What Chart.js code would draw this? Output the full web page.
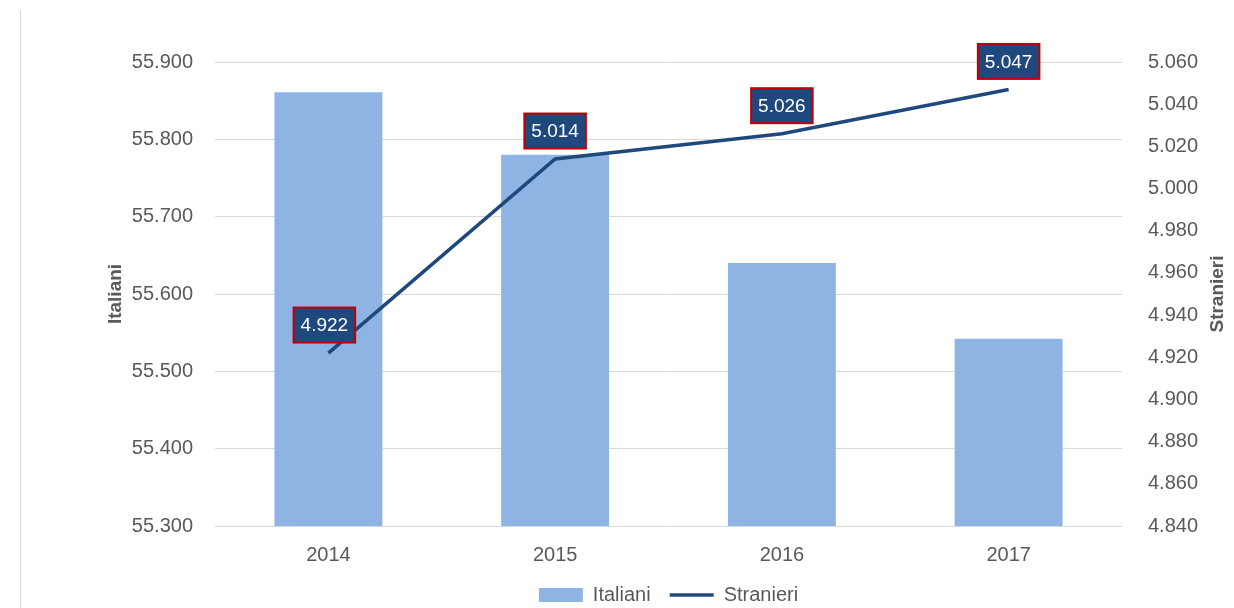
<!DOCTYPE html>
<html>
<head>
<meta charset="utf-8">
<script src="https://cdn.jsdelivr.net/npm/chart.js@4"></script>
<style>
  html, body { margin: 0; padding: 0; background: #fff; }
  #wrap { position: relative; width: 1234px; height: 608px; overflow: hidden; }
  #frame { position: absolute; left: 20px; top: 10px; width: 1px; height: 598px; background: #d9d9d9; }
  canvas { position: absolute; left: 0; top: 0; }
</style>
</head>
<body>
<div id="wrap">
  <div id="frame"></div>
  <canvas id="chartItaliani" width="1234" height="608"></canvas>
</div>
<script>
let anni = ["2014", "2015", "2016", "2017"];
let italiani = [55861, 55780, 55640, 55542];
let stranieri = [4922, 5014, 5026, 5047];

const fontFamily = "'Liberation Sans', Arial, sans-serif";
const grigio = "#595959";

function formatNum(v) {
  return (v / 1000).toFixed(3);
}

// etichette dei valori sulla linea (box blu con bordo rosso)
const etichettePlugin = {
  id: "etichette",
  afterDatasetsDraw(chart) {
    const ctx = chart.ctx;
    const meta = chart.getDatasetMeta(1);
    ctx.save();
    ctx.font = "19px " + fontFamily;
    ctx.textAlign = "center";
    ctx.textBaseline = "middle";
    meta.data.forEach((pt, i) => {
      const text = formatNum(stranieri[i]);
      const w = ctx.measureText(text).width + 14;
      const h = 35;
      const cx = pt.x - (i === 0 ? 4 : 0);
      const cy = pt.y - 28;
      ctx.fillStyle = "#1f497d";
      ctx.fillRect(cx - w / 2, cy - h / 2, w, h);
      ctx.strokeStyle = "#c00000";
      ctx.lineWidth = 2;
      ctx.strokeRect(cx - w / 2, cy - h / 2, w, h);
      ctx.fillStyle = "#ffffff";
      ctx.fillText(text, cx, cy + 1);
    });
    ctx.restore();
  },
};

// titoli degli assi, entrambi ruotati dal basso verso l'alto
const titoliPlugin = {
  id: "titoli",
  afterDraw(chart) {
    const ctx = chart.ctx;
    const area = chart.chartArea;
    const midY = (area.top + area.bottom) / 2;
    ctx.save();
    ctx.font = "bold 19px " + fontFamily;
    ctx.fillStyle = grigio;
    ctx.textAlign = "center";
    ctx.textBaseline = "middle";
    [["Italiani", area.left - 99], ["Stranieri", area.right + 96]].forEach(([t, x]) => {
      ctx.save();
      ctx.translate(x, midY);
      ctx.rotate(-Math.PI / 2);
      ctx.fillText(t, 0, 0);
      ctx.restore();
    });
    ctx.restore();
  },
};

let ctx = document.getElementById("chartItaliani").getContext("2d");
new Chart(ctx, {
  data: {
    labels: anni,
    datasets: [
      {
        type: "bar",
        label: "Italiani",
        data: italiani,
        yAxisID: "y",
        backgroundColor: "#8eb4e3",
        borderWidth: 0,
        barPercentage: 0.476,
        categoryPercentage: 1,
        pointStyle: "rect",
        order: 2,
      },
      {
        type: "line",
        label: "Stranieri",
        data: stranieri,
        yAxisID: "y1",
        borderColor: "#1f497d",
        backgroundColor: "#1f497d",
        borderWidth: 3.5,
        pointRadius: 0,
        pointStyle: "line",
        tension: 0,
        order: 1,
      },
    ],
  },
  options: {
    responsive: false,
    animation: false,
    layout: { padding: { top: 62, left: 0, right: 0, bottom: -7 } },
    plugins: {
      tooltip: { enabled: false },
      legend: {
        position: "bottom",
        fullSize: false,
        labels: {
          usePointStyle: true,
          pointStyleWidth: 44,
          boxHeight: 14,
          padding: 19,
          color: grigio,
          font: { family: fontFamily, size: 20 },
          sort: (a, b) => a.datasetIndex - b.datasetIndex,
        },
      },
    },
    scales: {
      x: {
        grid: { display: false, drawTicks: false },
        border: { display: false },
        ticks: { color: grigio, padding: 17, font: { family: fontFamily, size: 20 } },
        afterFit: (s) => { s.height = 40; },
      },
      y: {
        position: "left",
        min: 55300,
        max: 55900,
        grid: { color: "#d9d9d9", drawTicks: false },
        border: { display: false },
        ticks: {
          stepSize: 100,
          padding: 22,
          color: grigio,
          font: { family: fontFamily, size: 20 },
          callback: (v) => formatNum(v),
        },
        afterFit: (s) => { s.width = 215; },
      },
      y1: {
        position: "right",
        min: 4840,
        max: 5060,
        grid: { display: false, drawTicks: false },
        border: { display: false },
        ticks: {
          stepSize: 20,
          padding: 26,
          color: grigio,
          font: { family: fontFamily, size: 20 },
          callback: (v) => formatNum(v),
        },
        afterFit: (s) => { s.width = 112; },
      },
    },
  },
  plugins: [etichettePlugin, titoliPlugin],
});
</script>
</body>
</html>
